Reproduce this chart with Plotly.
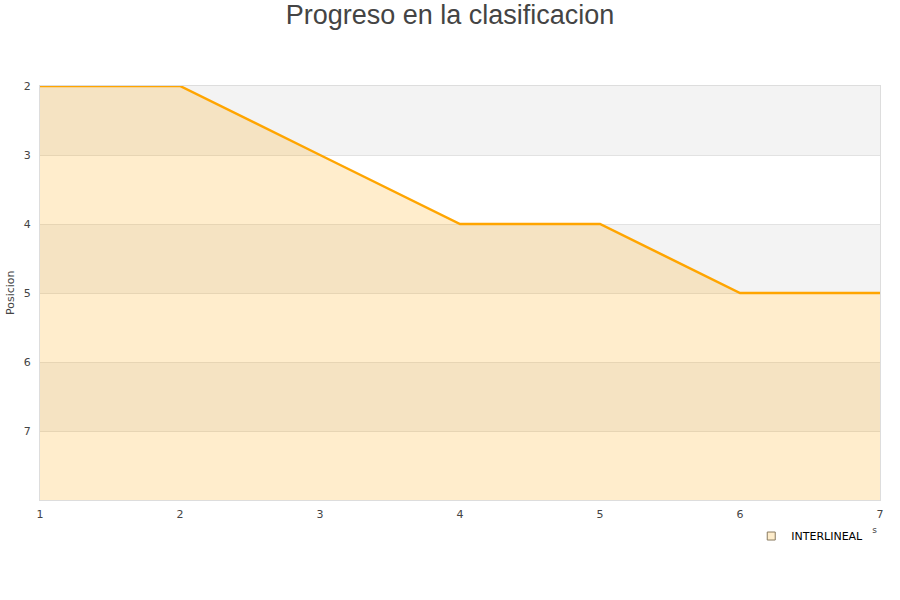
import plotly.graph_objects as go

jornadas = [1, 2, 3, 4, 5, 6, 7]
posiciones = [2, 2, 3, 4, 4, 5, 5]
y_ticks = [2, 3, 4, 5, 6, 7]
y_floor = 8
equipo = "INTERLINEAL"

fig = go.Figure()
fig.add_trace(go.Scatter(x=jornadas, y=[y_floor] * len(jornadas), mode="lines",
                         line=dict(width=0), showlegend=False, hoverinfo="skip"))
fig.add_trace(go.Scatter(x=jornadas, y=posiciones, mode="lines", name=equipo,
                         line=dict(color="#FFA500", width=2.5), showlegend=False,
                         fill="tonexty", fillcolor="rgba(255,165,0,0.2)"))
fig.add_trace(go.Scatter(x=[None], y=[None], mode="markers", name=equipo,
                         marker=dict(symbol="square", size=8, color="#feedcc",
                                     line=dict(color="#8a7a60", width=1))))

shapes = []
for lo in [2, 4, 6]:
    shapes.append(dict(type="rect", xref="paper", yref="y", x0=0, x1=1, y0=lo, y1=lo + 1,
                       fillcolor="#f3f3f3", line=dict(width=0), layer="below"))

fig.update_layout(
    template="none",
    width=900, height=600,
    paper_bgcolor="white", plot_bgcolor="white",
    title=dict(text="Progreso en la clasificacion", x=0.5, xanchor="center", y=0.976, yanchor="middle",
               font=dict(family="Liberation Sans, Arial", size=27, color="#444")),
    margin=dict(l=40, r=20, t=86, b=100, autoexpand=False),
    shapes=shapes,
    font=dict(family="DejaVu Sans", size=11, color="#444"),
    xaxis=dict(range=[1, 7], tickvals=jornadas, showgrid=False, zeroline=False,
               showline=True, linecolor="#dddddd", linewidth=1, mirror=True, ticks="",
               automargin=False, ticklabelstandoff=4,
               tickfont=dict(family="DejaVu Sans", size=11, color="#444")),
    yaxis=dict(range=[y_floor, 2], tickvals=y_ticks, showgrid=True, gridcolor="#e2e2e2",
               gridwidth=1, zeroline=False, showline=True, linecolor="#dddddd", linewidth=1,
               mirror=True, ticks="", automargin=False, ticklabelstandoff=6,
               tickfont=dict(family="DejaVu Sans", size=11, color="#444")),
    legend=dict(x=0.986, xanchor="right", y=-0.087, yanchor="middle", orientation="h",
                bgcolor="rgba(255,255,255,0)", font=dict(size=11, color="#000"),
                itemwidth=30),
    annotations=[
        dict(text="<span style='color:rgba(255,255,255,0)'>Jornada</span>s",
             xref="paper", yref="paper", x=(879 - 40) / 840, y=-0.073,
             xanchor="right", yanchor="middle", showarrow=False,
             font=dict(size=9, color="#444")),
        dict(text="Posicion", xref="paper", yref="paper", x=(10 - 40) / 840, y=0.5,
             xanchor="center", yanchor="middle", showarrow=False, textangle=-90,
             font=dict(size=11, color="#444")),
    ],
)
fig.write_html("out.html", config={"displayModeBar": False},
               post_script="document.body.style.margin='0';")
